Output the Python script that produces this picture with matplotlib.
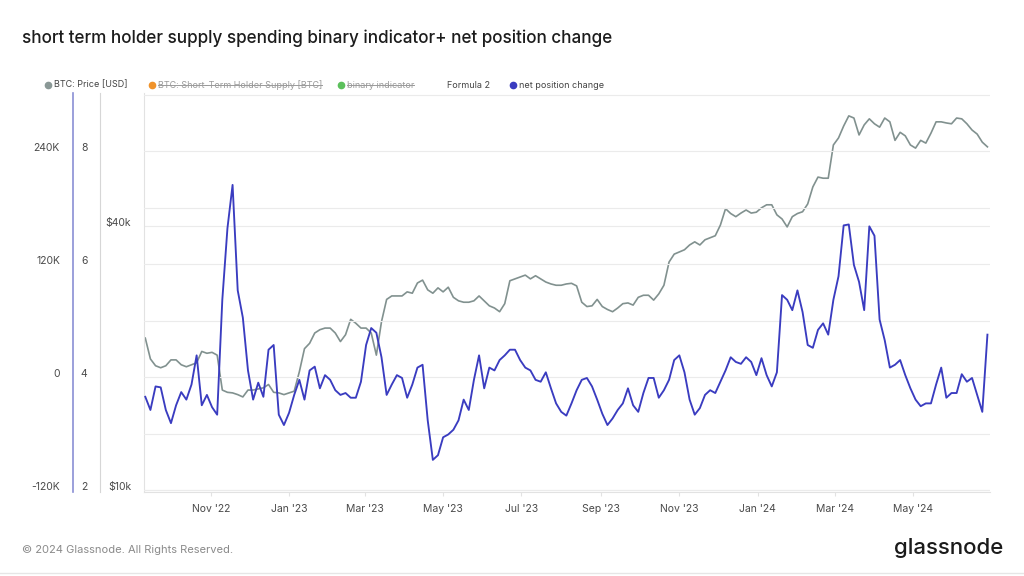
import matplotlib
matplotlib.use('Agg')
import matplotlib.pyplot as plt
import matplotlib.dates as mdates
from matplotlib.ticker import FixedLocator, FuncFormatter, NullLocator
from matplotlib.lines import Line2D
import pandas as pd

plt.rcParams['font.family'] = ['Inter', 'DejaVu Sans']

# data, one point every 4 days from 2022-09-11
start_date = '2022-09-11'
step = '4D'

btc_price = [
    22200, 19900, 19200, 19000, 19200, 19800, 19800, 19300, 19100, 19300,
    19500, 20700, 20500, 20600, 20300, 16900, 16700, 16650, 16500, 16300,
    16900, 16900, 17000, 17100, 17400, 16700, 16650, 16500, 16650, 16800,
    18600, 21000, 21600, 22800, 23200, 23400, 23400, 22800, 21800, 22600,
    24500, 24000, 23400, 23400, 22800, 20300, 24200, 27200, 27700, 27700,
    27700, 28300, 28100, 29650, 30100, 28600, 28100, 28900, 28300, 29000,
    27500, 27000, 26800, 26800, 27000, 27700, 27000, 26300, 26000, 25500,
    26600, 30000, 30300, 30600, 30900, 30300, 30800, 30300, 29800, 29500,
    29300, 29300, 29500, 29600, 29200, 26800, 26200, 26300, 27200, 26200,
    25800, 25500, 26000, 26600, 26700, 26400, 27500, 27800, 27800, 27100,
    28000, 29300, 33100, 34500, 34900, 35300, 36200, 36800, 36200, 37200,
    37600, 38000, 40200, 43800, 42700, 42000, 42800, 43500, 42800, 43000,
    44000, 44700, 44700, 42400, 41500, 39800, 42000, 42700, 43100, 44900,
    49100, 51700, 51400, 51400, 61200, 63500, 67600, 71300, 70500, 64500,
    68000, 70200, 68400, 67200, 70500, 69100, 62700, 65400, 64200, 61200,
    60200, 62700, 61800, 65100, 69100, 69100, 68700, 68400, 70500, 70200,
    68400, 66200, 64800, 62100, 60600,
]

# net position change in thousands of BTC
net_position_k = [
    -21, -35, -10, -11, -35, -49, -30, -16, -24, -8,
    23, -30, -19, -32, -40, 82, 158, 204, 92, 63,
    7, -24, -6, -21, 29, 34, -40, -51, -38, -19,
    -3, -24, 7, 11, -12, 2, -3, -14, -19, -17,
    -22, -22, -5, 34, 52, 47, 21, -19, -8, 2,
    -1, -22, -8, 10, 13, -46, -88, -83, -64, -61,
    -56, -46, -24, -35, -3, 23, -12, 10, 7, 18,
    23, 29, 29, 18, 10, 7, -3, -5, 5, -12,
    -28, -37, -41, -28, -14, -3, -1, -10, -24, -39,
    -51, -44, -35, -28, -12, -30, -37, -17, -1, -1,
    -22, -14, -3, 18, 23, 5, -24, -40, -33, -19,
    -14, -17, -5, 7, 21, 16, 14, 21, 16, 2,
    20, 2, -10, 5, 87, 82, 71, 92, 69, 34,
    31, 50, 57, 45, 82, 107, 161, 162, 119, 101,
    71, 160, 150, 61, 39, 10, 13, 18, 2, -12,
    -24, -31, -28, -28, -8, 10, -22, -17, -17, 3,
    -5, -1, -19, -37, 45,
]

legend_items = [
    ('BTC: Price [USD]', '#8a9896', False),
    ('BTC: Short-Term Holder Supply [BTC]', '#f0932b', True),
    ('binary indicator', '#5cc05c', True),
    ('Formula 2', None, False),
    ('net position change', '#3a3cc0', False),
]

dates = pd.date_range(start_date, periods=len(btc_price), freq=step)

W, H = 1024, 576
L, R, T, B = 144, 990, 93, 492
fig = plt.figure(figsize=(W / 100, H / 100), dpi=100)
rect = [L / W, 1 - B / H, (R - L) / W, (B - T) / H]

ax_px = fig.add_axes(rect)
ax_bin = ax_px.twinx()
ax_np = ax_px.twinx()

tick_col = '#4a4a4a'
grid_col = '#ebebeb'

# price axis (log)
ax_px.plot(dates, btc_price, color='#81918f', lw=1.2)
ax_px.set_yscale('log')
ax_px.set_ylim(9895, 80400)
ax_px.yaxis.set_major_locator(FixedLocator([10000, 40000]))
ax_px.yaxis.set_minor_locator(NullLocator())
ax_px.yaxis.set_major_formatter(FuncFormatter(lambda v, p: '$%dk' % (v / 1000)))
ax_px.grid(axis='y', color=grid_col, lw=0.8)
ax_px.tick_params(axis='y', length=0, pad=9.4, labelsize=7.5, labelcolor=tick_col)

ax_px.set_xlim(pd.Timestamp('2022-09-10'), pd.Timestamp('2024-06-30'))
ax_px.xaxis.set_major_locator(mdates.MonthLocator(bymonth=[1, 3, 5, 7, 9, 11]))
ax_px.xaxis.set_major_formatter(mdates.DateFormatter("%b '%y"))
ax_px.tick_params(axis='x', length=3, color='#e2e2e2', pad=6, labelsize=7.5,
                  labelcolor=tick_col)

for s in ['top', 'right']:
    ax_px.spines[s].set_visible(False)
ax_px.spines['left'].set_color('#e2e2e2')
ax_px.spines['bottom'].set_color('#e2e2e2')

# binary indicator axis (no line shown)
ax_bin.set_ylim(1.965, 9.03)
ax_bin.yaxis.set_major_locator(FixedLocator([2, 4, 6, 8]))
ax_bin.yaxis.tick_left()
ax_bin.spines['left'].set_position(('axes', (100 - L) / (R - L)))
ax_bin.spines['left'].set_color('#d6d6d6')
for s in ['top', 'right', 'bottom']:
    ax_bin.spines[s].set_visible(False)
ax_bin.tick_params(axis='y', length=0, pad=9, labelsize=7.5, labelcolor=tick_col)

# net position change axis
ax_np.plot(dates, [v * 1000 for v in net_position_k], color='#3a3cc0', lw=1.35)
ax_np.set_ylim(-122100, 301600)
ax_np.yaxis.set_major_locator(FixedLocator([-120000, -60000, 0, 60000, 120000, 180000, 240000, 300000]))
ax_np.yaxis.set_major_formatter(FuncFormatter(
    lambda v, p: ('%dK' % (v / 1000) if v != 0 else '0') if v % 120000 == 0 and v < 300000 else ''))
ax_np.yaxis.tick_left()
ax_np.spines['left'].set_position(('axes', (73 - L) / (R - L)))
ax_np.spines['left'].set_color('#8a8fd4')
ax_np.spines['left'].set_linewidth(1.2)
for s in ['top', 'right', 'bottom']:
    ax_np.spines[s].set_visible(False)
ax_np.grid(axis='y', color=grid_col, lw=0.8)
ax_np.tick_params(axis='y', length=0, pad=9.4, labelsize=7.5, labelcolor=tick_col)

for a in (ax_px, ax_bin, ax_np):
    for lab in a.get_yticklabels():
        lab.set_verticalalignment('baseline')

# title
fig.text(22 / W, 1 - 38 / H, 'short term holder supply spending binary indicator+ net position change',
         fontsize=12.3, fontweight='medium', color='#1c1c1c', va='center', ha='left')

# legend
leg_x = [48, 152, 341, 447, 513]
leg_y = 1 - 85 / H
fig.canvas.draw()
renderer = fig.canvas.get_renderer()
for (name, col, struck), x in zip(legend_items, leg_x):
    tx = x
    if col is not None:
        fig.add_artist(Line2D([x / W], [leg_y], marker='o', markersize=4.5,
                              color=col, transform=fig.transFigure))
        tx = x + 6
    t = fig.text(tx / W, leg_y, name, fontsize=6.5, va='center', ha='left',
                 color='#9a9a9a' if struck else '#444444')
    if struck:
        bb = t.get_window_extent(renderer)
        ym = (bb.y0 + bb.y1) / 2 / H
        fig.add_artist(Line2D([bb.x0 / W, bb.x1 / W], [ym, ym], color='#9a9a9a',
                              lw=0.7, transform=fig.transFigure))

# footer
fig.text(22 / W, 1 - 550 / H, '\u00a9 2024 Glassnode. All Rights Reserved.',
         fontsize=8, color='#8a8a8a', va='center', ha='left')
fig.text(1003 / W, 1 - 548 / H, 'glassnode', fontsize=16, fontweight='medium',
         color='#1a1a1a', va='center', ha='right')
fig.add_artist(Line2D([0, 1], [1 - 573 / H, 1 - 573 / H], color='#e6e6e6', lw=1,
                      transform=fig.transFigure))

fig.savefig('out.png', dpi=100)
